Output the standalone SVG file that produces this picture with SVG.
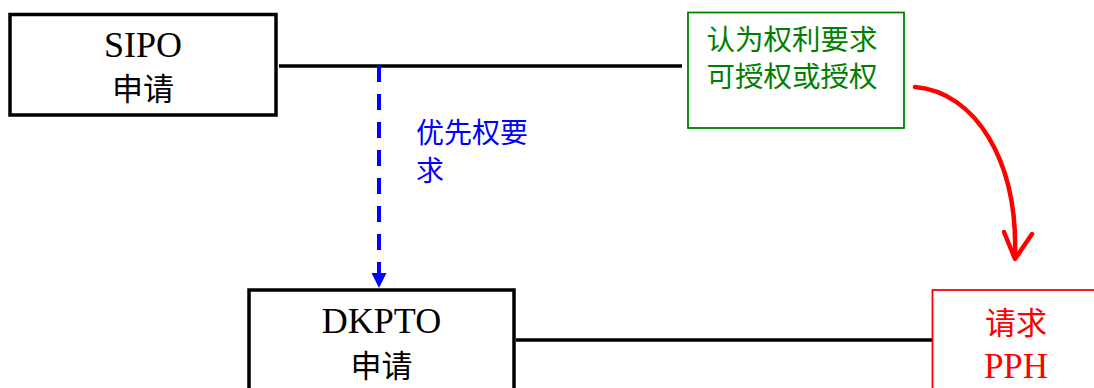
<svg xmlns="http://www.w3.org/2000/svg" width="1094" height="388" viewBox="0 0 1094 388">
<style>
.lat{font-family:"Liberation Serif","Times New Roman",serif;font-size:36px;text-anchor:middle}
.cjk{font-family:"Liberation Serif","Noto Sans CJK SC",serif;font-size:31px;text-anchor:middle}
.box{fill:#fff;stroke:#000;stroke-width:3.5}
.conn{stroke:#000;stroke-width:3.5;fill:none}
.lbl{font-family:"Liberation Sans","Noto Sans CJK SC",sans-serif}
</style>
<rect width="1094" height="388" fill="#fff"/>
<g id="connectors">
<line class="conn" x1="279" y1="66" x2="682" y2="66"/>
<line class="conn" x1="516" y1="340" x2="932" y2="340"/>
<line x1="379" y1="66" x2="379" y2="273" stroke="#0000ff" stroke-width="4" stroke-dasharray="16,12"/>
<path d="M371.5,273 L386.5,273 L379,288 Z" fill="#0000ff"/>
<text class="lbl" x="416" y="143" font-size="28" fill="#0000ff">优先权要</text>
<text class="lbl" x="416" y="181" font-size="28" fill="#0000ff">求</text>
<path d="M915,87 C975,92 1018,160 1015,256" fill="none" stroke="#ff0000" stroke-width="4.5" stroke-linecap="round"/>
<polyline points="1004,232 1015,259 1032,234" fill="none" stroke="#ff0000" stroke-width="4.5" stroke-linecap="round" stroke-linejoin="round"/>
</g>
<g id="sipo">
<rect class="box" x="10" y="14.5" width="266" height="100.5"/>
<text class="lat" x="143" y="57">SIPO</text>
<text class="cjk" x="143" y="100">申请</text>
</g>
<g id="dkpto">
<rect class="box" x="249" y="290" width="265" height="120"/>
<text class="lat" x="381.5" y="333">DKPTO</text>
<text class="cjk" x="381.5" y="377">申请</text>
</g>
<g id="grant">
<rect x="688" y="12.5" width="216" height="115.5" fill="#fff" stroke="#008000" stroke-width="1.8"/>
<text class="lbl" x="792" y="50" font-size="28.5" fill="#008000" text-anchor="middle">认为权利要求</text>
<text class="lbl" x="792" y="87" font-size="28.5" fill="#008000" text-anchor="middle">可授权或授权</text>
</g>
<g id="pph">
<rect x="932.5" y="290" width="170" height="120" fill="#fff" stroke="#ff0000" stroke-width="1.8"/>
<text class="cjk" x="1016" y="334" fill="#ff0000">请求</text>
<text class="lat" x="1016" y="378" fill="#ff0000" style="font-size:35px">PPH</text>
</g>
</svg>
